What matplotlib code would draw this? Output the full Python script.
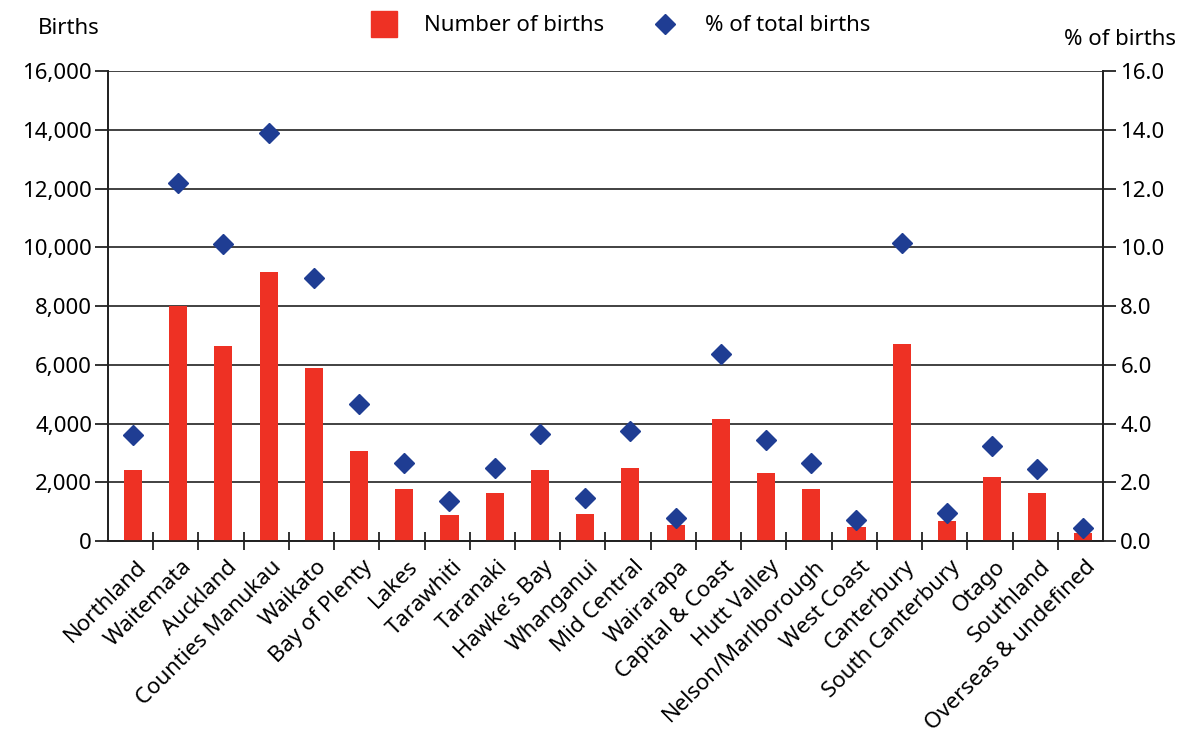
from matplotlib import pyplot as plt
from matplotlib.lines import Line2D
from matplotlib.transforms import ScaledTranslation
import numpy as np

RED = "#EE3124"
BLUE = "#1F3D93"

regions = [
    "Northland", "Waitemata", "Auckland", "Counties Manukau", "Waikato",
    "Bay of Plenty", "Lakes", "Tarawhiti", "Taranaki", "Hawke’s Bay",
    "Whanganui", "Mid Central", "Wairarapa", "Capital & Coast", "Hutt Valley",
    "Nelson/Marlborough", "West Coast", "Canterbury", "South Canterbury",
    "Otago", "Southland", "Overseas & undefined",
]
births = [
    2420, 8000, 6650, 9150, 5880, 3050, 1780, 870, 1650, 2420, 930,
    2480, 560, 4160, 2300, 1780, 480, 6700, 670, 2170, 1650, 290,
]
pct_births = [
    3.6, 12.2, 10.1, 13.9, 8.95, 4.65, 2.65, 1.35, 2.5, 3.65, 1.45,
    3.75, 0.8, 6.35, 3.45, 2.65, 0.7, 10.15, 0.95, 3.25, 2.45, 0.45,
]

left_ticks = np.arange(0, 16001, 2000)
right_ticks = np.arange(0, 16.1, 2)

plt.rcParams["font.family"] = ["Noto Sans", "DejaVu Sans"]
plt.rcParams["font.size"] = 16

fig = plt.figure(figsize=(11.78, 7.38), dpi=100)
ax = fig.add_axes([0.0917, 0.2669, 0.8446, 0.6369])
ax2 = ax.twinx()

x = np.arange(len(regions))
ax.bar(x + 0.05, births, width=0.4, color=RED, zorder=3)
ax2.plot(x + 0.05, pct_births, linestyle="none", marker="D", markersize=10,
         color=BLUE, zorder=4)

ax.set_xlim(-0.5, len(regions) - 0.5)
ax.set_ylim(0, 16000)
ax2.set_ylim(0, 16)

ax.set_yticks(left_ticks)
ax.set_yticklabels([f"{v:,.0f}" for v in left_ticks])
ax2.set_yticks(right_ticks)
ax2.set_yticklabels([f"{v:.1f}" for v in right_ticks])

ax.grid(axis="y", color="#333333", linewidth=1.3, zorder=0)
ax.set_axisbelow(True)

# category labels at centres, tick marks between categories
ax.set_xticks(x)
ax.set_xticklabels(regions, rotation=45, ha="right", va="top",
                   rotation_mode="anchor")
ax.tick_params(axis="x", length=0, pad=11)
shift = ScaledTranslation(5 / 100, 0, fig.dpi_scale_trans)
for lbl in ax.get_xticklabels():
    lbl.set_transform(lbl.get_transform() + shift)
ax.set_xticks(np.arange(0.5, len(regions) - 0.5, 1), minor=True)
ax.tick_params(axis="x", which="minor", direction="inout", length=13,
               width=1.3, color="#222222")

ax.tick_params(axis="y", length=9.5, width=1.3, color="#222222", pad=2)
ax2.tick_params(axis="y", length=9.5, width=1.3, color="#222222", pad=3)

for a in (ax, ax2):
    a.spines["top"].set_visible(False)
    for s in ("left", "right", "bottom"):
        a.spines[s].set_linewidth(1.3)
        a.spines[s].set_color("#222222")

fig.text(0.032, 0.962, "Births", ha="left", va="center", fontsize=16)
fig.text(0.998, 0.946, "% of births", ha="right", va="center", fontsize=16)

handles = [
    Line2D([], [], linestyle="none", marker="s", markersize=19, color=RED),
    Line2D([], [], linestyle="none", marker="D", markersize=10, color=BLUE),
]
fig.legend(handles, ["Number of births", "% of total births"], ncol=2,
           loc="center", bbox_to_anchor=(0.523, 0.965), frameon=False,
           handletextpad=0.8, columnspacing=1.7, fontsize=16)

fig.savefig("out.png", dpi=100)
